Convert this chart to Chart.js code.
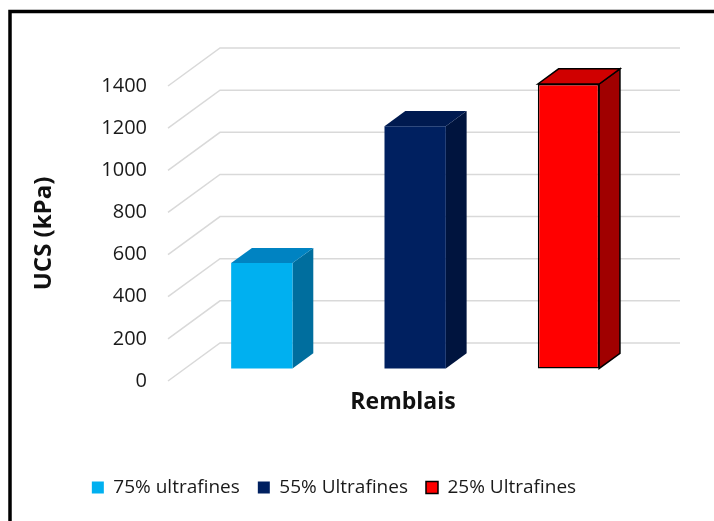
<!DOCTYPE html>
<html>
<head>
<meta charset="utf-8">
<script src="https://cdn.jsdelivr.net/npm/chart.js@4"></script>
<style>
  html, body { margin: 0; padding: 0; background: #fff; }
  #wrap { width: 714px; height: 521px; }
</style>
</head>
<body>
<div id="wrap"><canvas id="ucsChart" width="714" height="521"></canvas></div>
<script>
// data
const categories = ["Remblais"];
const seriesNames = ["75% ultrafines", "55% Ultrafines", "25% Ultrafines"];
const ucsValues = [500, 1150, 1350];
const yTicks = [0, 200, 400, 600, 800, 1000, 1200, 1400];

// colours: front, top, side
const frontColors = ["#00B0F0", "#002060", "#FF0000"];
const topColors = ["#0083C2", "#001A50", "#D00000"];
const sideColors = ["#006E9E", "#00143E", "#A00000"];

// 3D look (pixels of the full floor depth)
const DEPTH_X = 52;
const DEPTH_Y = -38;
const BAR_FRONT = 0.33;
const BAR_DEPTH = 0.4;

const FONT = "'Open Sans', 'DejaVu Sans', sans-serif";

const threeD = {
  id: "threeD",
  beforeDraw(chart) {
    const ctx = chart.ctx;
    ctx.save();
    ctx.fillStyle = "#fff";
    ctx.fillRect(0, 0, chart.width, chart.height);
    ctx.restore();
  },
  beforeDatasetsDraw(chart) {
    const ctx = chart.ctx;
    const yScale = chart.scales.y;
    const { left, right } = chart.chartArea;

    // floor + back wall grid
    ctx.save();
    ctx.strokeStyle = "#D9D9D9";
    ctx.lineWidth = 1.5;
    yScale.ticks.forEach(t => {
      const py = yScale.getPixelForValue(t.value);
      ctx.beginPath();
      ctx.moveTo(left, py);
      ctx.lineTo(left + DEPTH_X, py + DEPTH_Y);
      ctx.lineTo(right + DEPTH_X, py + DEPTH_Y);
      ctx.stroke();
    });
    ctx.restore();

    // move bars into their own plane, then draw top and side faces
    ctx.save();
    ctx.translate(DEPTH_X * BAR_FRONT, DEPTH_Y * BAR_FRONT);
    const bx = DEPTH_X * BAR_DEPTH;
    const by = DEPTH_Y * BAR_DEPTH;
    chart.data.datasets.forEach((ds, i) => {
      const meta = chart.getDatasetMeta(i);
      meta.data.forEach(bar => {
        const x0 = bar.x - bar.width / 2;
        const x1 = bar.x + bar.width / 2;
        const outline = ds.borderWidth > 0;

        ctx.beginPath();
        ctx.moveTo(x1, bar.y);
        ctx.lineTo(x1 + bx, bar.y + by);
        ctx.lineTo(x1 + bx, bar.base + by);
        ctx.lineTo(x1, bar.base);
        ctx.closePath();
        ctx.fillStyle = sideColors[i];
        ctx.fill();
        if (outline) { ctx.strokeStyle = "#000"; ctx.lineWidth = 1.5; ctx.stroke(); }

        ctx.beginPath();
        ctx.moveTo(x0, bar.y);
        ctx.lineTo(x0 + bx, bar.y + by);
        ctx.lineTo(x1 + bx, bar.y + by);
        ctx.lineTo(x1, bar.y);
        ctx.closePath();
        ctx.fillStyle = topColors[i];
        ctx.fill();
        if (outline) { ctx.strokeStyle = "#000"; ctx.lineWidth = 1.5; ctx.stroke(); }
      });
    });
  },
  afterDatasetsDraw(chart) {
    chart.ctx.restore();
  },
  afterDraw(chart) {
    const ctx = chart.ctx;
    ctx.save();
    ctx.strokeStyle = "#000";
    ctx.lineWidth = 3.5;
    ctx.strokeRect(10, 11.5, chart.width + 20, chart.height + 20);
    ctx.restore();
  }
};

new Chart(document.getElementById("ucsChart"), {
  type: "bar",
  data: {
    labels: categories,
    datasets: seriesNames.map((name, i) => ({
      label: name,
      data: [ucsValues[i]],
      backgroundColor: frontColors[i],
      borderColor: "#000",
      borderWidth: i === 2 ? 1.5 : 0,
      borderSkipped: false,
      clip: false
    }))
  },
  options: {
    responsive: false,
    animation: false,
    events: [],
    layout: {
      padding: { top: 86, left: 40, right: 86, bottom: 14 }
    },
    datasets: {
      bar: { categoryPercentage: 1, barPercentage: 0.4 }
    },
    plugins: {
      legend: {
        position: "bottom",
        labels: {
          boxWidth: 12,
          boxHeight: 12,
          padding: 18,
          color: "#1a1a1a",
          font: { family: FONT, size: 19 }
        }
      },
      tooltip: { enabled: false }
    },
    scales: {
      x: {
        grid: { display: false, drawTicks: false },
        border: { display: false },
        ticks: {
          color: "#111",
          padding: 8,
          labelOffset: 5,
          font: { family: FONT, size: 23, weight: "bold" }
        },
        afterFit(scale) { scale.height = 79; }
      },
      y: {
        min: 0,
        max: 1400,
        afterBuildTicks(scale) { scale.ticks = yTicks.map(v => ({ value: v })); },
        grid: { display: false, drawTicks: false },
        border: { display: false },
        ticks: {
          color: "#1a1a1a",
          padding: 21,
          font: { family: FONT, size: 20 },
          callback: v => String(v)
        },
        title: {
          display: true,
          text: "UCS (kPa)",
          color: "#111",
          padding: { top: -10, bottom: 0 },
          font: { family: FONT, size: 24, weight: "bold" }
        },
        afterFit(scale) { scale.width = 128; }
      }
    }
  },
  plugins: [threeD]
});
</script>
</body>
</html>
